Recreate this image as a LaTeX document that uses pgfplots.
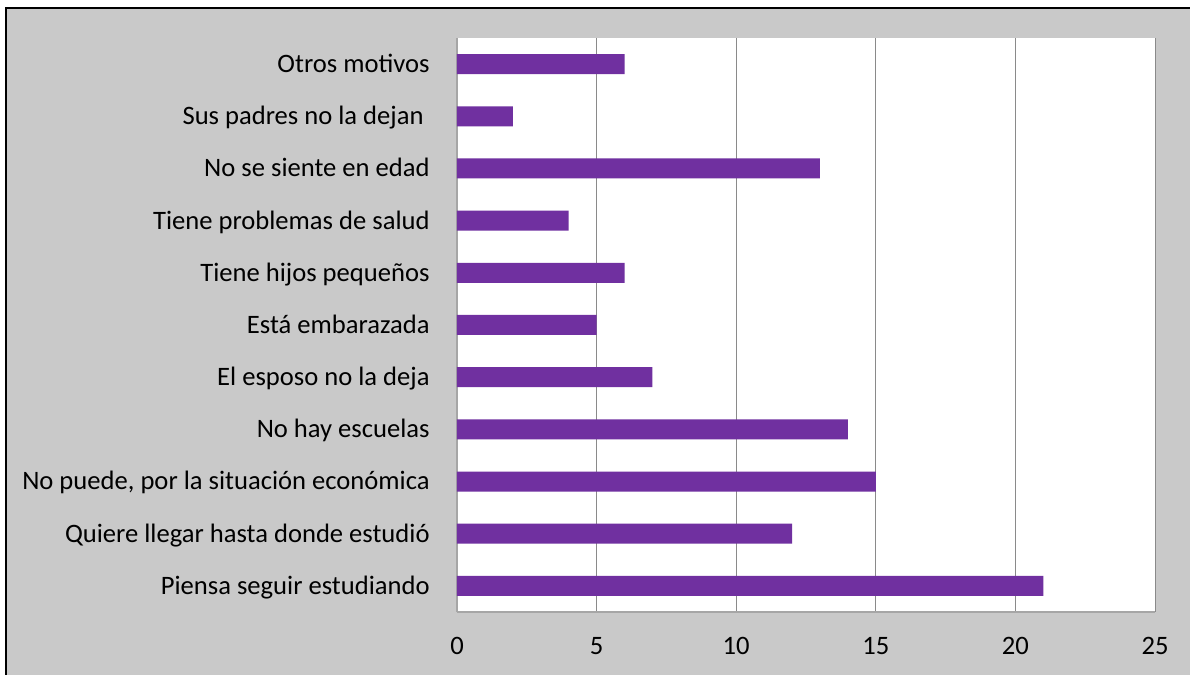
\documentclass[border=0pt]{standalone}
\usepackage{fontspec}
\setmainfont{Carlito}
\usepackage{pgfplots}
\pgfplotsset{compat=1.18}
\definecolor{bgray}{HTML}{C9C9C9}
\definecolor{barpurple}{HTML}{7030A0}
\definecolor{gridgray}{HTML}{8A8A8A}
\definecolor{axgray}{HTML}{A6A6A6}
\begin{document}
\begin{tikzpicture}[x=1pt,y=1pt]
\useasboundingbox (0,0) rectangle (595,337.5);
\fill[white] (0,0) rectangle (595,337.5);
\fill[bgray] (3,0) rectangle (595,333.5);
\draw[black, line width=1pt] (3,0) -- (3,333.5) -- (595,333.5);
\begin{axis}[
  at={(228.5pt,31.5pt)}, anchor=south west,
  scale only axis, width=349pt, height=287pt,
  xmin=0, xmax=25, ymin=-0.5, ymax=10.5,
  xbar, bar width=10pt,
  axis background/.style={fill=white},
  axis x line*=bottom, axis y line*=left,
  axis line style={-, draw=axgray, line width=0.75pt},
  xtick={0,5,10,15,20,25},
  ytick={0,...,10},
  yticklabels={Piensa seguir estudiando, Quiere llegar hasta donde estudió, {No puede, por la situación económica}, No hay escuelas, El esposo no la deja, Está embarazada, Tiene hijos pequeños, Tiene problemas de salud, No se siente en edad, Sus padres no la dejan\hspace*{3pt}, Otros motivos},
  major tick length=0pt,
  xmajorgrids, major grid style={draw=gridgray, line width=0.5pt},
  tick label style={font=\fontsize{13.3}{16}\selectfont, text=black, inner sep=0pt},
  x tick label style={anchor=base, yshift=-21pt},
  y tick label style={anchor=base east, xshift=-13.5pt, yshift=-4.2pt},
  /pgf/number format/assume math mode=true,
]
\addplot[fill=barpurple, draw=none] coordinates {
(21,0) (12,1) (15,2) (14,3) (7,4) (5,5) (6,6) (4,7) (13,8) (2,9) (6,10)
};
\end{axis}
\end{tikzpicture}
\end{document}
